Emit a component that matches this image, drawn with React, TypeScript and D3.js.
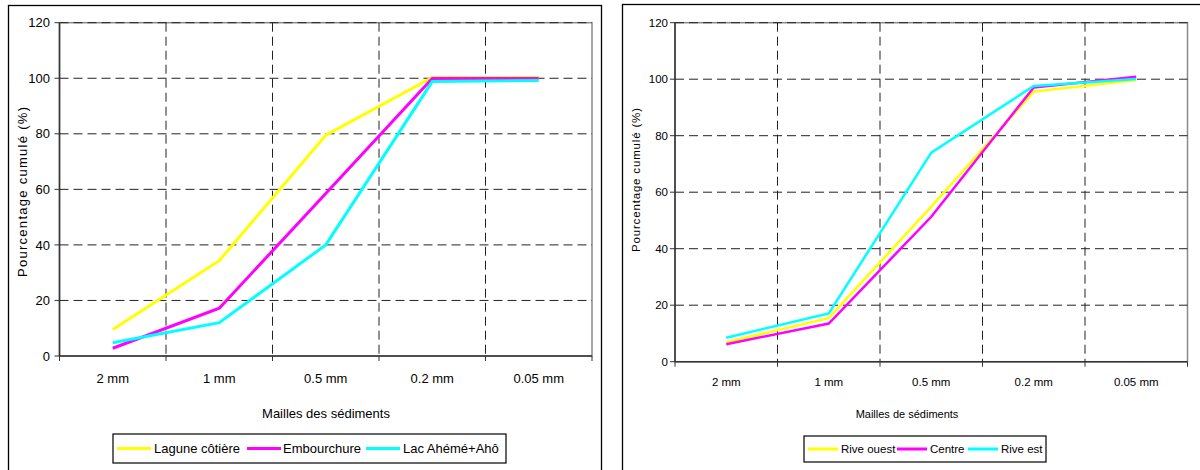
import React from "react";
import * as d3 from "d3";

// ---------- DATA ----------
const categories = ["2 mm", "1 mm", "0.5 mm", "0.2 mm", "0.05 mm"];
const yTicks = [0, 20, 40, 60, 80, 100, 120];

// Left chart
const laguneCotiere = [9.5, 34.3, 79.5, 100.3, 100.3];
const embouchure = [2.8, 17.2, 58.5, 99.9, 99.9];
const lacAheme = [4.8, 12.0, 40.0, 98.8, 99.2];

// Right chart
const riveOuest = [6.9, 15.4, 54.9, 95.6, 99.7];
const centre = [6.2, 13.5, 51.3, 97.1, 100.9];
const riveEst = [8.5, 17.1, 74.0, 97.6, 100.1];

const leftSeries = [
  { name: "Lagune côtière", values: laguneCotiere, color: "#FFFF00" },
  { name: "Embourchure", values: embouchure, color: "#FF00FF" },
  { name: "Lac Ahémé+Ahô", values: lacAheme, color: "#00FFFF" },
];
const rightSeries = [
  { name: "Rive ouest", values: riveOuest, color: "#FFFF00" },
  { name: "Centre", values: centre, color: "#FF00FF" },
  { name: "Rive est", values: riveEst, color: "#00FFFF" },
];

const FONT = "'Liberation Sans', Arial, sans-serif";

type Series = { name: string; values: number[]; color: string };
type Cfg = {
  box: [number, number, number, number];
  plot: { left: number; right: number; top: number; bottom: number };
  tickFont: number;
  xLabelY: number;
  xTitle: string;
  xTitlePos: [number, number];
  xTitleFont: number;
  yTitlePos: [number, number];
  yTitleLen: number;
  yTitleFont: number;
  yLabelRight: number;
  lineWidth: number;
  legend: { x0: number; x1: number; y0: number; y1: number; font: number; items: [number, number, number][] };
  series: Series[];
};

function Chart({ cfg }: { cfg: Cfg }) {
  const { plot } = cfg;
  const x = d3.scaleBand<string>().domain(categories).range([plot.left, plot.right]).padding(0);
  const y = d3.scaleLinear().domain([0, 120]).range([plot.bottom, plot.top]);
  const bw = x.bandwidth();
  const line = d3
    .line<number>()
    .x((_, i) => (x(categories[i]) as number) + bw / 2)
    .y((v) => y(v));
  const boundaries = categories.map((c) => x(c) as number).concat([plot.right]);
  const fs = cfg.tickFont;
  return (
    <g fontFamily={FONT} fill="#000">
      <rect x={cfg.box[0]} y={cfg.box[1]} width={cfg.box[2]} height={cfg.box[3]} fill="#fff" stroke="#000" strokeWidth={1.3} />
      {/* plot area border */}
      <rect x={plot.left} y={plot.top} width={plot.right - plot.left} height={plot.bottom - plot.top} fill="none" stroke="#8a8a8a" strokeWidth={1.5} />
      {/* horizontal gridlines */}
      {yTicks.filter((t) => t > 0).map((t) => (
        <line key={"h" + t} x1={plot.left} x2={plot.right} y1={y(t)} y2={y(t)} stroke="#222" strokeWidth={1} strokeDasharray="9,5" />
      ))}
      {/* vertical gridlines */}
      {boundaries.slice(1, -1).map((bx, i) => (
        <line key={"v" + i} x1={bx} x2={bx} y1={plot.top} y2={plot.bottom} stroke="#222" strokeWidth={1} strokeDasharray="9,5" />
      ))}
      {/* axes */}
      <line x1={plot.left} x2={plot.left} y1={plot.top} y2={plot.bottom} stroke="#333" strokeWidth={1.5} />
      <line x1={plot.left} x2={plot.right} y1={plot.bottom} y2={plot.bottom} stroke="#333" strokeWidth={1.5} />
      {yTicks.map((t) => (
        <g key={"yt" + t}>
          <line x1={plot.left - 5} x2={plot.left} y1={y(t)} y2={y(t)} stroke="#333" strokeWidth={1} />
          <text x={cfg.yLabelRight} y={y(t) + fs * 0.36} fontSize={fs} textAnchor="end">
            {t}
          </text>
        </g>
      ))}
      {boundaries.map((bx, i) => (
        <line key={"xt" + i} x1={bx} x2={bx} y1={plot.bottom} y2={plot.bottom + 5} stroke="#333" strokeWidth={1} />
      ))}
      {categories.map((c) => (
        <text key={c} x={(x(c) as number) + bw / 2} y={cfg.xLabelY + fs * 0.36} fontSize={fs} textAnchor="middle">
          {c}
        </text>
      ))}
      {/* series */}
      {cfg.series.map((s) => (
        <path key={s.name} d={line(s.values) || ""} fill="none" stroke={s.color} strokeWidth={cfg.lineWidth} strokeLinejoin="miter" />
      ))}
      {/* titles */}
      <text x={cfg.xTitlePos[0]} y={cfg.xTitlePos[1] + cfg.xTitleFont * 0.36} fontSize={cfg.xTitleFont} textAnchor="middle">
        {cfg.xTitle}
      </text>
      <text
        transform={`translate(${cfg.yTitlePos[0]},${cfg.yTitlePos[1]}) rotate(-90)`}
        x={-cfg.yTitleLen / 2}
        y={cfg.yTitleFont * 0.36}
        fontSize={cfg.yTitleFont}
        textLength={cfg.yTitleLen}
        lengthAdjust="spacing"
      >
        Pourcentage cumulé (%)
      </text>
      {/* legend */}
      <rect
        x={cfg.legend.x0}
        y={cfg.legend.y0}
        width={cfg.legend.x1 - cfg.legend.x0}
        height={cfg.legend.y1 - cfg.legend.y0}
        fill="#fff"
        stroke="#000"
        strokeWidth={1.2}
      />
      {cfg.series.map((s, i) => {
        const [lx0, lx1, tx] = cfg.legend.items[i];
        const cy = (cfg.legend.y0 + cfg.legend.y1) / 2;
        return (
          <g key={"lg" + s.name}>
            <line x1={lx0} x2={lx1} y1={cy} y2={cy} stroke={s.color} strokeWidth={3} />
            <text x={tx} y={cy + cfg.legend.font * 0.36} fontSize={cfg.legend.font}>
              {s.name}
            </text>
          </g>
        );
      })}
    </g>
  );
}

const leftCfg: Cfg = {
  box: [8.5, 5.5, 593, 470],
  plot: { left: 59.5, right: 592, top: 22.7, bottom: 356 },
  tickFont: 13,
  xLabelY: 378,
  xTitle: "Mailles des sédiments",
  xTitlePos: [326, 413],
  xTitleFont: 13,
  yTitlePos: [22, 192],
  yTitleLen: 170,
  yTitleFont: 13,
  yLabelRight: 50,
  lineWidth: 3,
  legend: {
    x0: 113,
    x1: 506,
    y0: 434,
    y1: 463,
    font: 13,
    items: [
      [117, 151, 154],
      [247, 281, 283],
      [366, 400, 403],
    ],
  },
  series: leftSeries,
};

const rightCfg: Cfg = {
  box: [622.5, 4.5, 600, 470],
  plot: { left: 675, right: 1187.5, top: 22.7, bottom: 361.7 },
  tickFont: 11.5,
  xLabelY: 381.7,
  xTitle: "Mailles de sédiments",
  xTitlePos: [907, 414],
  xTitleFont: 11,
  yTitlePos: [636, 180],
  yTitleLen: 144,
  yTitleFont: 11.5,
  yLabelRight: 668,
  lineWidth: 2.5,
  legend: {
    x0: 804,
    x1: 1046,
    y0: 436,
    y1: 462,
    font: 11.5,
    items: [
      [808, 838, 841],
      [897, 927, 930],
      [968, 998, 1001],
    ],
  },
  series: rightSeries,
};

export default function App() {
  return (
    <svg width={1200} height={470} style={{ position: "absolute", left: 0, top: 0, background: "#fff" }}>
      <rect x={0} y={0} width={1200} height={470} fill="#fff" />
      <Chart cfg={leftCfg} />
      <Chart cfg={rightCfg} />
    </svg>
  );
}
